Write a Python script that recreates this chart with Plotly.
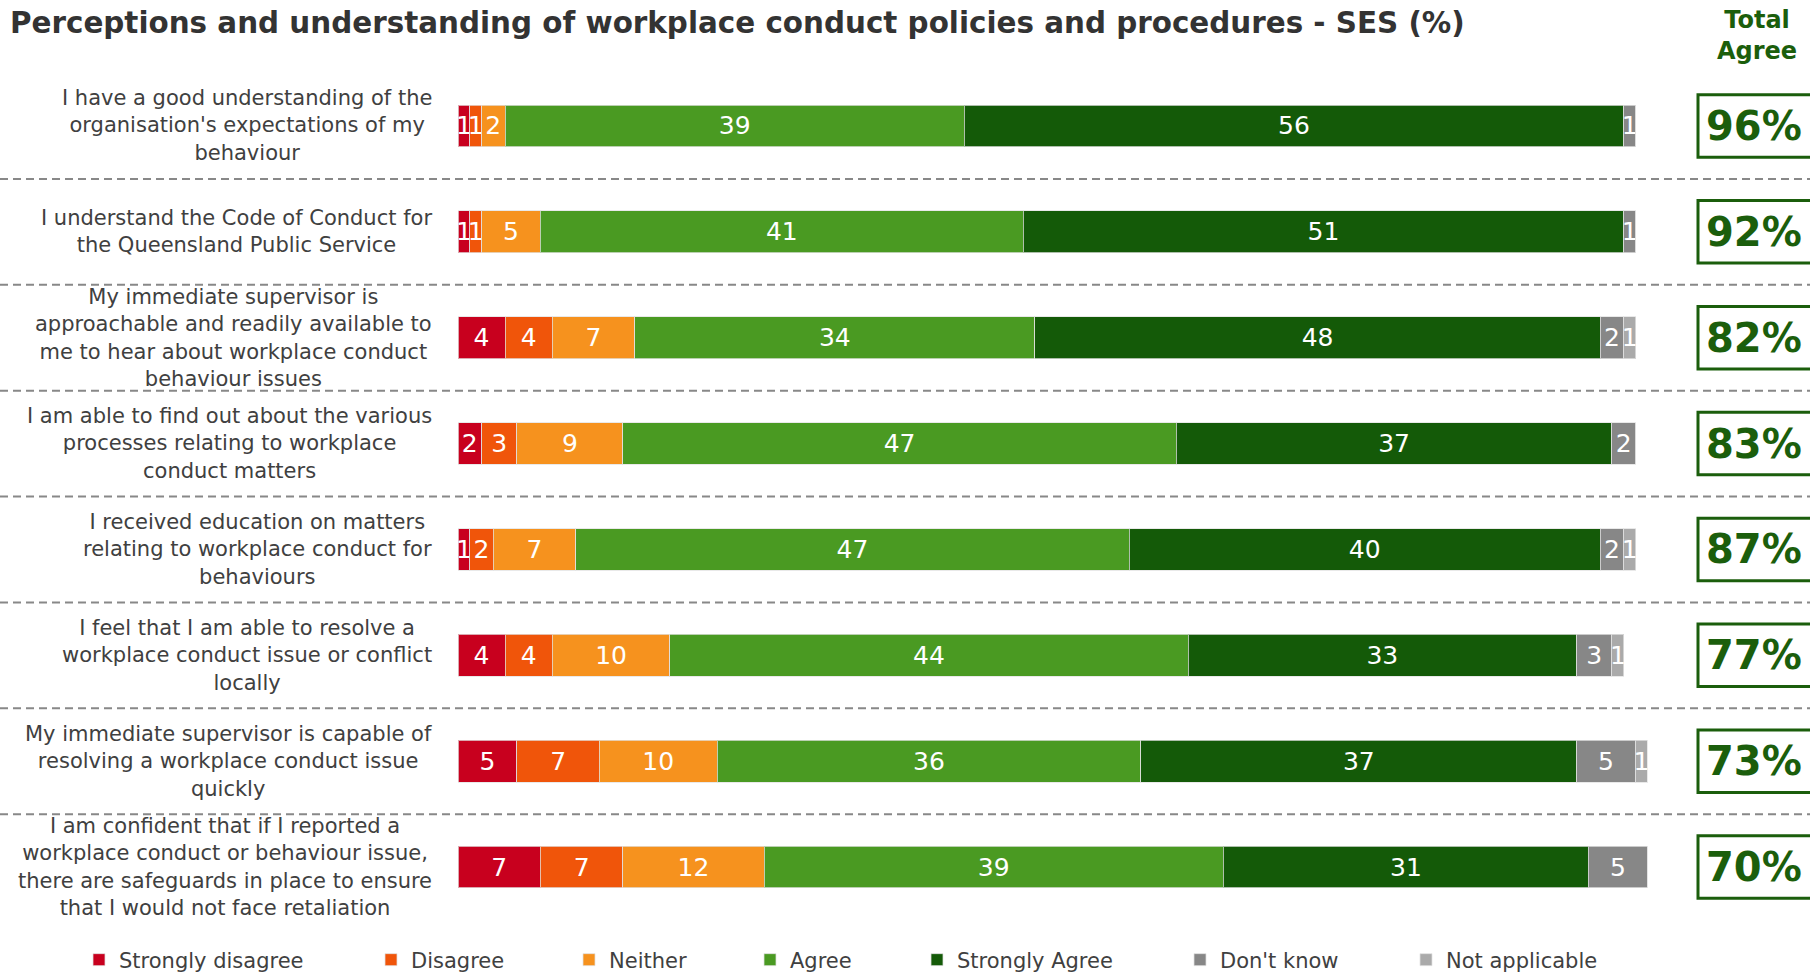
import plotly.graph_objects as go

# ---- data -------------------------------------------------------------
questions = [
    "I have a good understanding of the\norganisation's expectations of my\nbehaviour",
    "I understand the Code of Conduct for\nthe Queensland Public Service",
    "My immediate supervisor is\napproachable and readily available to\nme to hear about workplace conduct\nbehaviour issues",
    "I am able to find out about the various\nprocesses relating to workplace\nconduct matters",
    "I received education on matters\nrelating to workplace conduct for\nbehaviours",
    "I feel that I am able to resolve a\nworkplace conduct issue or conflict\nlocally",
    "My immediate supervisor is capable of\nresolving a workplace conduct issue\nquickly",
    "I am confident that if I reported a\nworkplace conduct or behaviour issue,\nthere are safeguards in place to ensure\nthat I would not face retaliation",
]

strongly_disagree = [1, 1, 4, 2, 1, 4, 5, 7]
disagree = [1, 1, 4, 3, 2, 4, 7, 7]
neither = [2, 5, 7, 9, 7, 10, 10, 12]
agree = [39, 41, 34, 47, 47, 44, 36, 39]
strongly_agree = [56, 51, 48, 37, 40, 33, 37, 31]
dont_know = [1, 1, 2, 2, 2, 3, 5, 5]
not_applicable = [0, 0, 1, 0, 1, 1, 1, 0]

total_agree = [96, 92, 82, 83, 87, 77, 73, 70]

series_names = ["Strongly disagree", "Disagree", "Neither", "Agree",
                "Strongly Agree", "Don't know", "Not applicable"]
series_values = [strongly_disagree, disagree, neither, agree,
                 strongly_agree, dont_know, not_applicable]
series_colors = ["#C8001E", "#F0550A", "#F6921E", "#4A9A22",
                 "#145A08", "#878787", "#AAAAAA"]

# ---- layout geometry ---------------------------------------------------
W, H = 1810, 972
M_L, M_R, M_T, M_B = 458, 0, 73, 52
PLOT_W = W - M_L - M_R
PX_PER_UNIT = 11.775
X_MAX = PLOT_W / PX_PER_UNIT

FONT = "DejaVu Sans"
TEXT_GREY = "#404040"
GREEN = "#1B5E0C"


def px_to_paper_x(px):
    return (px - M_L) / PLOT_W


row_ids = list(range(len(questions)))

fig = go.Figure()

# legend anchor positions (left edge of each legend box, in pixels)
legend_left_px = [79, 371, 569, 750, 917, 1180, 1406]
legend_y = (H - M_B - 960) / (H - M_T - M_B)

for k, (name, vals, col) in enumerate(zip(series_names, series_values, series_colors)):
    legend_id = "legend" if k == 0 else f"legend{k + 1}"
    fig.add_trace(go.Bar(
        name=name,
        y=row_ids,
        x=vals,
        orientation="h",
        marker=dict(color=col, line=dict(color="rgba(225,225,225,0.75)", width=1)),
        text=[str(v) if v else "" for v in vals],
        textposition="inside",
        insidetextanchor="middle",
        textangle=0,
        textfont=dict(family=FONT, size=25, color="white"),
        legend=legend_id,
        hovertemplate=name + ": %{x}<extra></extra>",
    ))

layout_legends = {}
for k, lx in enumerate(legend_left_px):
    key = "legend" if k == 0 else f"legend{k + 1}"
    layout_legends[key] = dict(
        orientation="h",
        x=px_to_paper_x(lx),
        xanchor="left",
        y=legend_y,
        yanchor="middle",
        bgcolor="rgba(0,0,0,0)",
        font=dict(family=FONT, size=21, color=TEXT_GREY),
        itemclick=False,
        itemdoubleclick=False,
    )

shapes = []
annotations = []

# dashed separators between statements
for r in row_ids[:-1]:
    shapes.append(dict(
        type="line", xref="paper", yref="y",
        x0=-M_L / PLOT_W, x1=1.0, y0=r + 0.5, y1=r + 0.5,
        line=dict(color="#888888", width=2, dash="8px,5px"),
        layer="below",
    ))

# statement labels (centred multi-line text left of the bars)
for r, q in zip(row_ids, questions):
    annotations.append(dict(
        xref="paper", yref="y", x=px_to_paper_x(434), y=r,
        xanchor="right", yanchor="middle", align="center",
        text=q.replace("\n", "<br>"), showarrow=False,
        font=dict(family=FONT, size=21, color=TEXT_GREY),
    ))

# Total Agree boxes
for r, t in zip(row_ids, total_agree):
    shapes.append(dict(
        type="rect", xref="paper", yref="y",
        x0=px_to_paper_x(1698), x1=px_to_paper_x(1830),
        y0=r - 0.295, y1=r + 0.295,
        line=dict(color=GREEN, width=3), fillcolor="rgba(0,0,0,0)",
    ))
    annotations.append(dict(
        xref="paper", yref="y", x=px_to_paper_x(1704), y=r,
        xanchor="left", yanchor="middle",
        text=f"{t}%", showarrow=False,
        font=dict(family=FONT, size=40, color=GREEN, weight="bold"),
    ))

annotations.append(dict(
    xref="paper", yref="paper", x=px_to_paper_x(1757),
    y=(H - M_B - 35) / (H - M_T - M_B),
    xanchor="center", yanchor="middle", align="center",
    text="Total<br>Agree", showarrow=False,
    font=dict(family=FONT, size=24, color=GREEN, weight="bold"),
))

fig.update_layout(
    width=W, height=H,
    margin=dict(l=M_L, r=M_R, t=M_T, b=M_B, pad=0, autoexpand=False),
    paper_bgcolor="white", plot_bgcolor="white",
    barmode="stack",
    bargap=0.605,
    title=dict(
        text="Perceptions and understanding of workplace conduct policies and procedures - SES (%)",
        xref="container", yref="container",
        x=10 / W, xanchor="left",
        y=1 - 23 / H, yanchor="middle",
        font=dict(family=FONT, size=29.4, color="#333333", weight="bold"),
    ),
    xaxis=dict(range=[0, X_MAX], visible=False, fixedrange=True),
    yaxis=dict(range=[len(questions) - 0.5, -0.5], visible=False, fixedrange=True),
    uniformtext=dict(minsize=25, mode="show"),
    shapes=shapes,
    annotations=annotations,
    showlegend=True,
    **layout_legends,
)

fig.write_html("out.html")
